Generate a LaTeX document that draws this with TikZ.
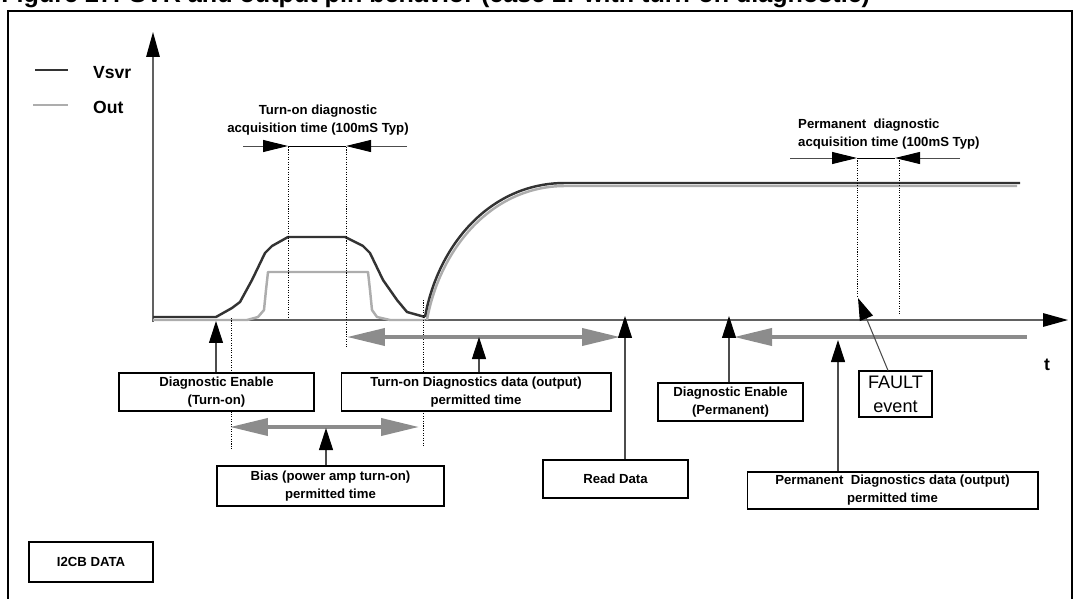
\documentclass[tikz,border=0pt]{standalone}
\usepackage{fontspec}
\setmainfont{Liberation Sans}
\usetikzlibrary{arrows.meta}

\begin{document}
\begin{tikzpicture}[x=0.02cm,y=-0.02cm]
    \tikzstyle{every node}=[font=\bfseries\fontsize{7.5}{10.2}\selectfont]
    \tikzstyle{box}=[draw=black, line width=0.6pt, fill=white, align=center, inner sep=0pt]
    \tikzstyle{vsvr}=[draw=black!80, line width=1.4pt, line join=round]
    \tikzstyle{outp}=[draw=black!32, line width=1.4pt, line join=round]
    \tikzstyle{axis}=[draw=black!62, line width=0.8pt, -{Triangle[length=0.5cm,width=0.27cm,color=black]}]
    \tikzstyle{guide}=[draw=black, line width=0.4pt, dash pattern=on 0.6pt off 0.8pt]
    \tikzstyle{window}=[draw=black!70, line width=0.5pt, -{Triangle[length=0.5cm,width=0.24cm,color=black]}]
    \tikzstyle{span}=[draw=black!45, line width=2.2pt]
    \tikzstyle{pointer}=[draw=black!70, line width=0.6pt, -{Triangle[length=0.44cm,width=0.28cm,color=black]}]
    \tikzstyle{legend}=[anchor=west, font=\bfseries\fontsize{10}{12}\selectfont]

    \useasboundingbox (0,0) rectangle (1074,598);

    % Title and frame
    \node[anchor=base west, inner sep=0pt, font=\bfseries\fontsize{14.3}{16}\selectfont] (title) at (1,3)
        {Figure 27. SVR and output pin behavior (case 2: with turn-on diagnostic)};
    \draw[line width=1.1pt] (8,11) rectangle (1072,640);

    % Axes
    \coordinate (O) at (153,320);
    \draw[axis] (153,322) -- (153,32);
    \draw[axis] (O) -- (1068,320);
    \node[font=\bfseries\fontsize{10}{12}\selectfont] (t) at (1047,365) {t};

    % Legend
    \draw[vsvr] (35,70) -- (68,70);
    \draw[outp] (33,105) -- (68,105);
    \node[legend] (lv) at (87,73) {Vsvr};
    \node[legend] (lo) at (87,107) {Out};

    % Out and Vsvr curves
    \draw[outp] (153,320) -- (247,320) -- (258,317) -- (264,310) -- (266,290) -- (268,272)
        -- (368,272) -- (370,290) -- (372,310) -- (377,317) -- (390,320) -- (425,320);
    \draw[outp] (427,320) .. controls (440,248) and (492,186) .. (565,186) -- (1017,186);
    \draw[vsvr] (153,317) -- (216,317) -- (232,308) -- (240,302) -- (252,280) -- (265,253)
        -- (272,246) -- (288,237) -- (345,237) -- (363,246) -- (370,253) -- (383,280)
        -- (397,300) -- (407,312) -- (425,317);
    \draw[vsvr] (425,317) .. controls (438,245) and (490,183) .. (565,183) -- (1020,183);

    % Dotted guides
    \foreach \x/\ya/\yb in {288/147/318, 346/147/347, 231/318/450, 423/300/447, 857/158/297, 899/158/315}
        \draw[guide] (\x,\ya) -- (\x,\yb);

    % Acquisition windows
    \node[align=center] (tacq) at (318,120) {Turn-on diagnostic\\acquisition time (100mS Typ)};
    \draw[window] (243,146) -- (288,146);
    \draw[window] (407,146) -- (346,146);
    \draw[draw=black, line width=0.5pt] (288,146) -- (346,146);
    \node[anchor=west, align=left] (pacq) at (792,134) {Permanent\ \ diagnostic\\acquisition time (100mS Typ)};
    \draw[window] (790,158) -- (857,158);
    \draw[window] (960,158) -- (895,158);
    \draw[draw=black, line width=0.5pt] (857,158) -- (895,158);

    % Permitted time spans
    \draw[span, {Triangle[length=0.76cm,width=0.34cm]}-{Triangle[length=0.76cm,width=0.34cm]}] (347,337) -- (620,337);
    \draw[span, {Triangle[length=0.76cm,width=0.34cm]}-{Triangle[length=0.76cm,width=0.34cm]}] (230,427) -- (419,427);
    \draw[span, {Triangle[length=0.76cm,width=0.34cm]}-] (734,337) -- (1027,337);

    % Boxes
    \node[box, minimum width=3.9cm, minimum height=0.76cm] (den) at (216.5,392) {Diagnostic Enable\\(Turn-on)};
    \node[box, minimum width=5.4cm, minimum height=0.76cm] (tdata) at (476,392) {Turn-on Diagnostics data (output)\\permitted time};
    \node[box, minimum width=4.54cm, minimum height=0.8cm] (bias) at (330.5,486) {Bias (power amp turn-on)\\permitted time};
    \node[box, minimum width=2.9cm, minimum height=0.76cm] (read) at (615.5,479) {Read Data};
    \node[box, minimum width=2.9cm, minimum height=0.76cm] (dpe) at (730.5,402) {Diagnostic Enable\\(Permanent)};
    \node[box, minimum width=1.46cm, minimum height=0.92cm, font=\mdseries\fontsize{10.3}{13.5}\selectfont] (fault) at (895.5,394) {FAULT\\event};
    \node[box, minimum width=5.82cm, minimum height=0.74cm] (pdata) at (892.5,490.5) {Permanent\ \ Diagnostics data (output)\\permitted time};
    \node[box, minimum width=2.48cm, minimum height=0.8cm] (i2cb) at (91,562) {I2CB DATA};

    % Pointers from the boxes
    \coordinate (den-tip) at (216,321);
    \coordinate (bias-tip) at (326,428);
    \coordinate (tdata-tip) at (479,337);
    \coordinate (read-tip) at (625,316);
    \coordinate (dpe-tip) at (729,316);
    \coordinate (pdata-tip) at (838,340);
    \coordinate (fault-tip) at (858,298);
    \foreach \name in {den, bias, tdata, read, dpe, pdata}
        \draw[pointer] (\name.north -| \name-tip) -- (\name-tip);
    \draw[pointer] ([xshift=-0.15cm]fault.north) -- (fault-tip);
\end{tikzpicture}
\end{document}
